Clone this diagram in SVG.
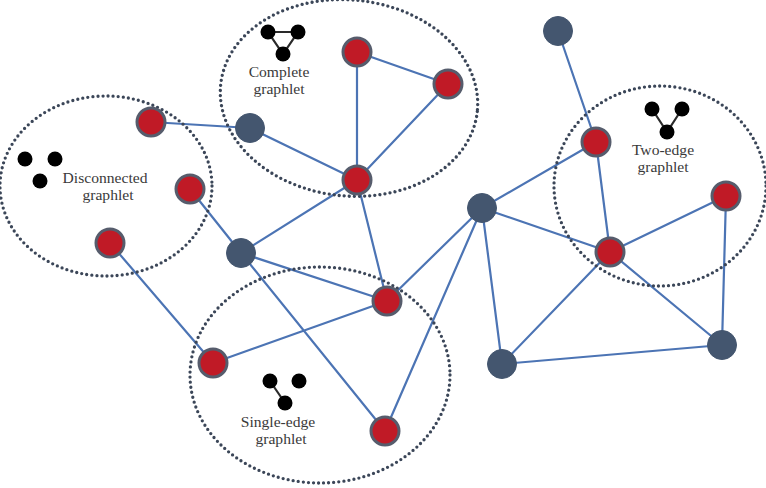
<svg xmlns="http://www.w3.org/2000/svg" width="766" height="488" viewBox="0 0 766 488">
<style>
.ring{fill:none;stroke:#3b4658;stroke-width:3.3;stroke-dasharray:0 5.1;stroke-linecap:round}
.edge{stroke:#4c74b4;stroke-width:2.2;fill:none}
.red{fill:#c01a26;stroke:#565c6c;stroke-width:3}
.blue{fill:#44566f;stroke:#44566f;stroke-width:1}
.mini{fill:#000}
.mini-edge{stroke:#2a2a2a;stroke-width:2.2;fill:none}
text{font-family:"Liberation Serif",serif;font-size:15.6px;fill:#3a3a3a;text-anchor:middle}
</style>
<rect width="766" height="488" fill="#fff"/>
<g id="connectors">
<path class="edge" d="M151 122L250 128M250 128L357 180M357 52V180M357 52L448 84M448 84L357 180M190 189L241 253M241 253L357 180M241 253L387 301M241 253L385 431M357 180L387 301M110 243L213 363M213 363L387 301M387 301L482 208M482 208L385 431M482 208L596 142M482 208L610 252M482 208L502 364M558 31L596 142M596 142L610 252M610 252L726 196M610 252L502 364M610 252L722 345M726 196L722 345M502 364L722 345"/>
</g>
<g id="graphlet-rings">
<ellipse class="ring" cx="106" cy="186" rx="106" ry="90"/>
<ellipse class="ring" cx="349" cy="98" rx="129" ry="98" transform="rotate(6 349 98)"/>
<ellipse class="ring" cx="320" cy="375" rx="130" ry="108"/>
<ellipse class="ring" cx="660" cy="186" rx="106" ry="100"/>
</g>
<g id="n1"><circle class="red" cx="151" cy="122" r="14"/></g>
<g id="n2"><circle class="red" cx="190" cy="189" r="14"/></g>
<g id="n3"><circle class="red" cx="110" cy="243" r="14"/></g>
<g id="n4"><circle class="blue" cx="250" cy="128" r="14.5"/></g>
<g id="n5"><circle class="red" cx="357" cy="52" r="14"/></g>
<g id="n6"><circle class="red" cx="448" cy="84" r="14"/></g>
<g id="n7"><circle class="red" cx="357" cy="180" r="14"/></g>
<g id="n8"><circle class="blue" cx="241" cy="253" r="14.5"/></g>
<g id="n9"><circle class="red" cx="387" cy="301" r="14"/></g>
<g id="n10"><circle class="red" cx="213" cy="363" r="14"/></g>
<g id="n11"><circle class="red" cx="385" cy="431" r="14"/></g>
<g id="n12"><circle class="blue" cx="482" cy="208" r="14.5"/></g>
<g id="n13"><circle class="blue" cx="558" cy="31" r="14.5"/></g>
<g id="n14"><circle class="red" cx="596" cy="142" r="14"/></g>
<g id="n15"><circle class="red" cx="610" cy="252" r="14"/></g>
<g id="n16"><circle class="red" cx="726" cy="196" r="14"/></g>
<g id="n17"><circle class="blue" cx="722" cy="345" r="14.5"/></g>
<g id="n18"><circle class="blue" cx="502" cy="364" r="14.5"/></g>
<g id="disconnected-graphlet">
<circle class="mini" cx="25" cy="159" r="7.5"/><circle class="mini" cx="55" cy="159" r="7.5"/><circle class="mini" cx="40" cy="181" r="7.5"/>
<text x="105" y="183">Disconnected</text><text x="108" y="200">graphlet</text>
</g>
<g id="complete-graphlet">
<path class="mini-edge" d="M268 32H298L283 54Z"/>
<circle class="mini" cx="268" cy="32" r="7.5"/><circle class="mini" cx="298" cy="32" r="7.5"/><circle class="mini" cx="283" cy="54" r="7.5"/>
<text x="279" y="77">Complete</text><text x="279" y="94">graphlet</text>
</g>
<g id="single-edge-graphlet">
<path class="mini-edge" d="M270 381L285 403"/>
<circle class="mini" cx="270" cy="381" r="7.5"/><circle class="mini" cx="299" cy="381" r="7.5"/><circle class="mini" cx="285" cy="403" r="7.5"/>
<text x="278" y="427">Single-edge</text><text x="281" y="444">graphlet</text>
</g>
<g id="two-edge-graphlet">
<path class="mini-edge" d="M652 109L667 132L682 109"/>
<circle class="mini" cx="652" cy="109" r="7.5"/><circle class="mini" cx="682" cy="109" r="7.5"/><circle class="mini" cx="667" cy="132" r="7.5"/>
<text x="663" y="155">Two-edge</text><text x="663" y="172">graphlet</text>
</g>
</svg>
